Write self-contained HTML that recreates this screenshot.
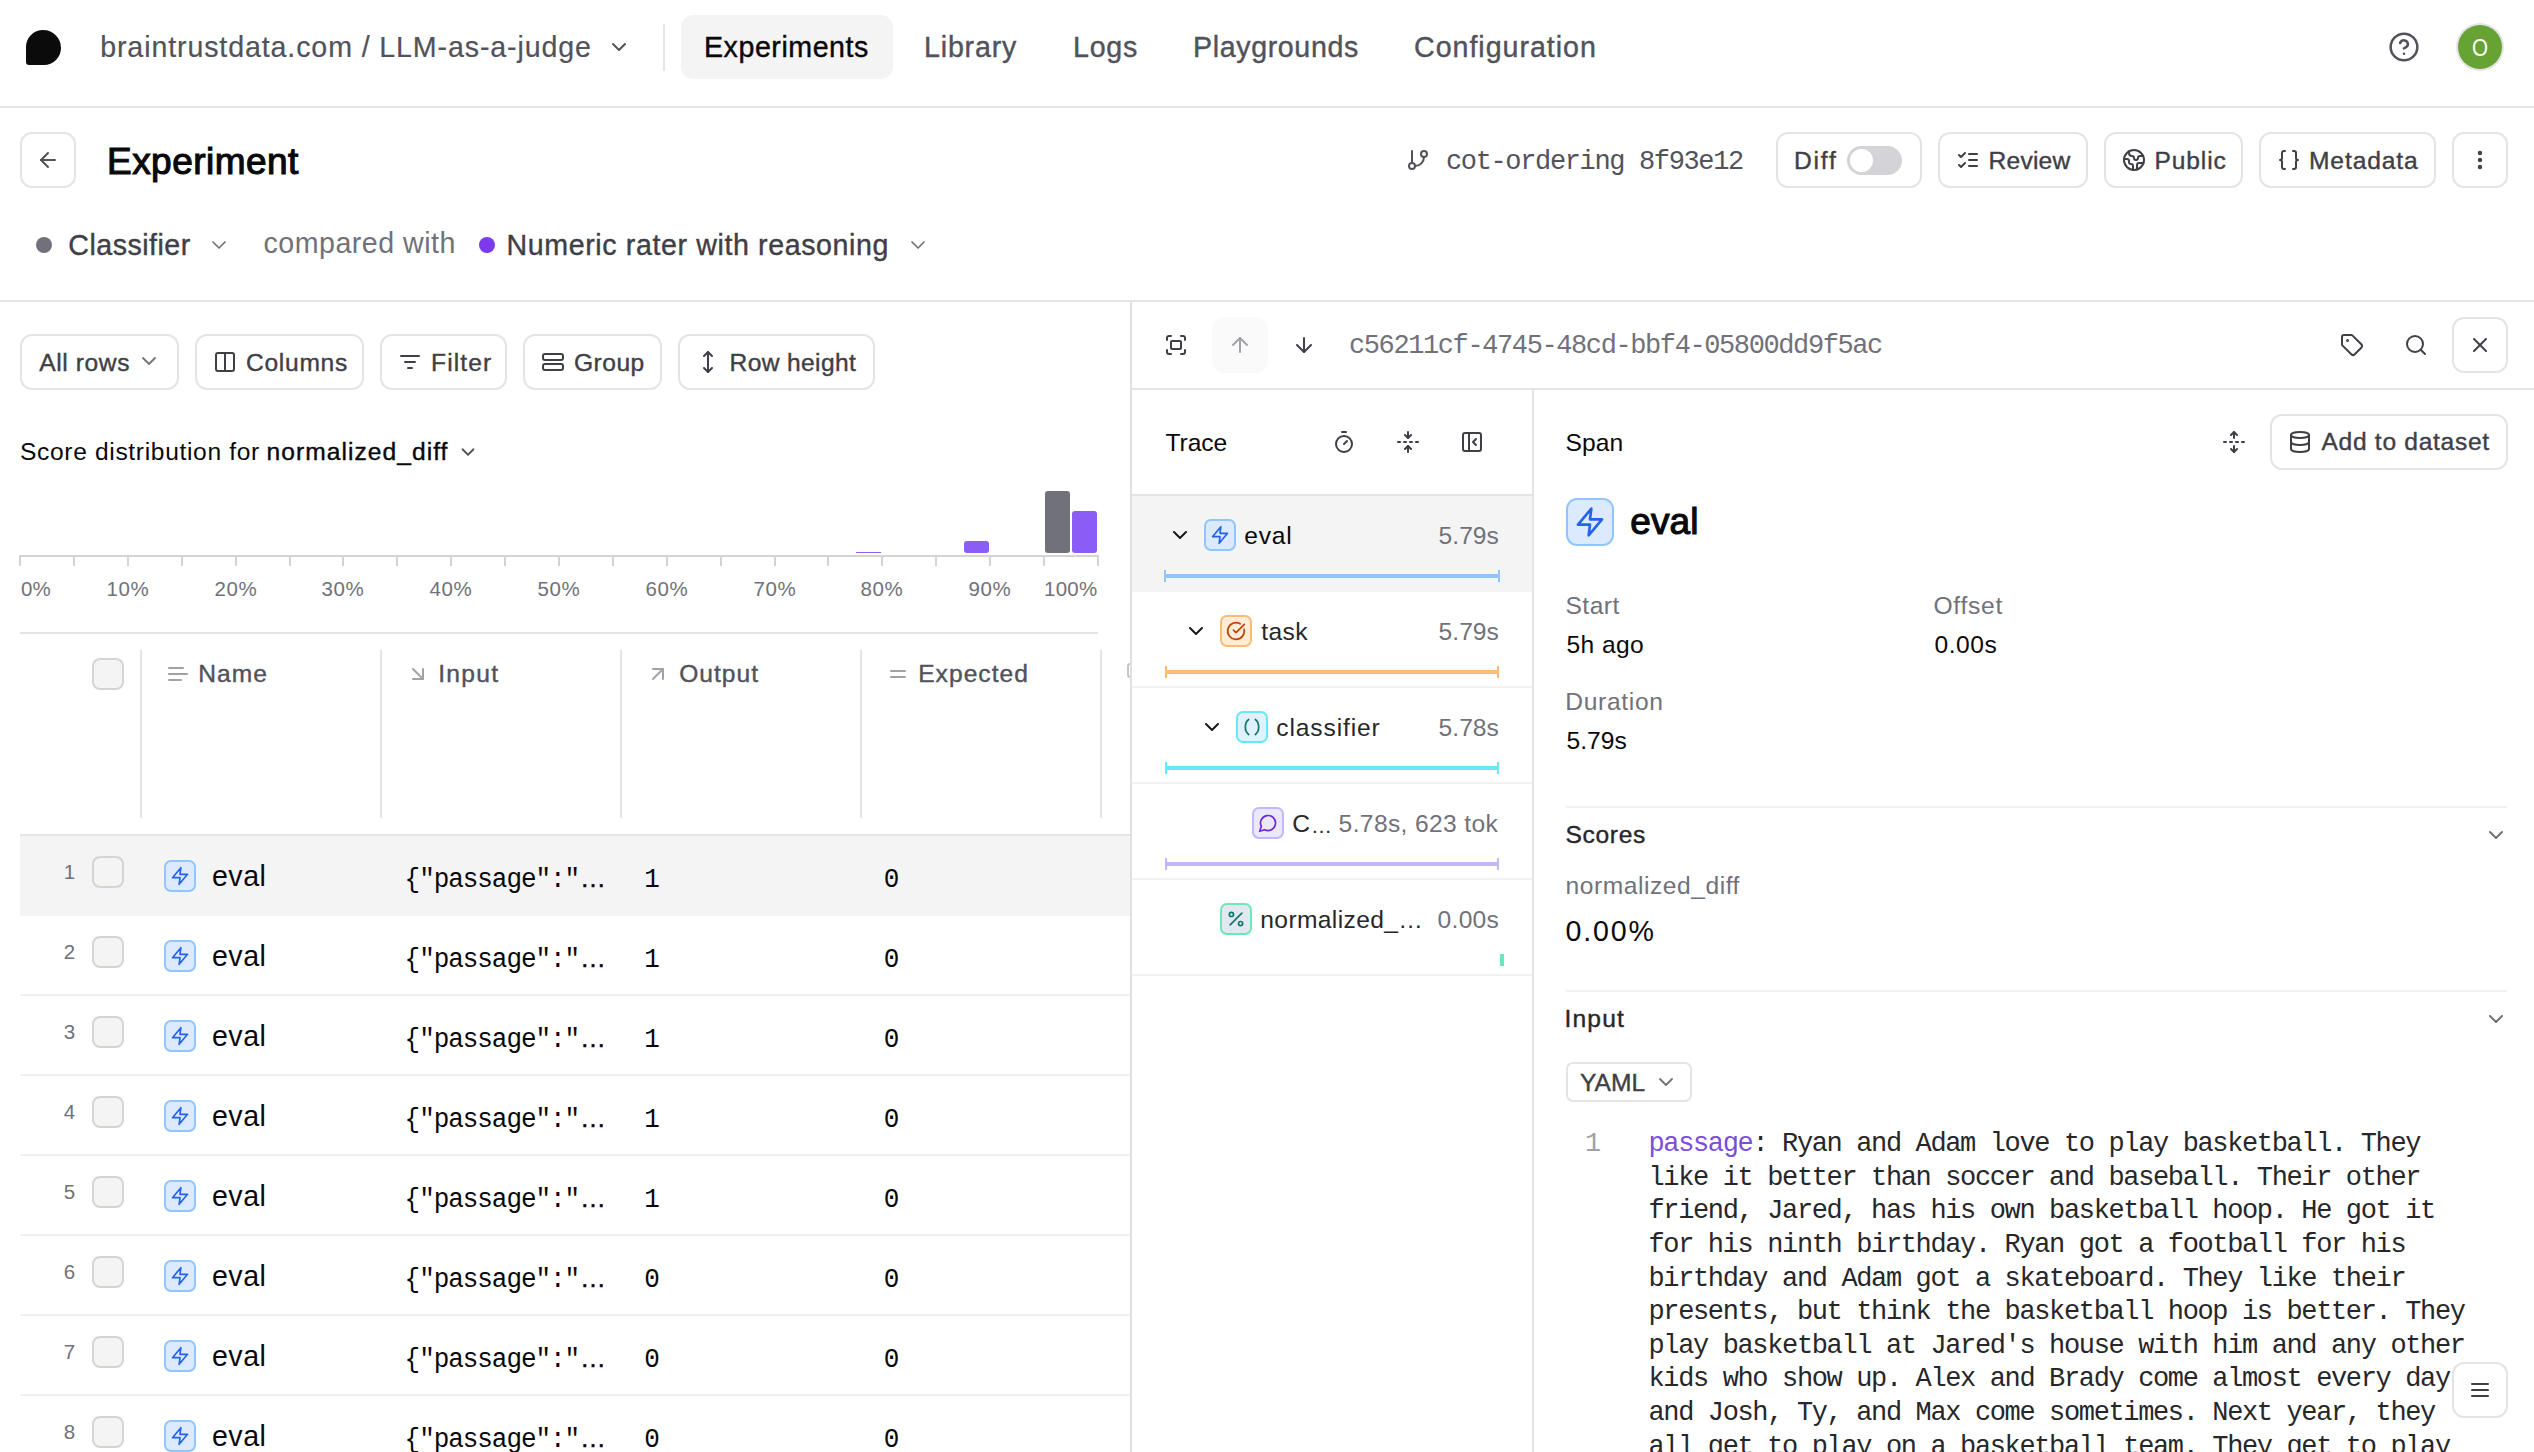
<!DOCTYPE html>
<html>
<head>
<meta charset="utf-8">
<title>Experiment</title>
<style>
*{box-sizing:border-box;margin:0;padding:0}
html,body{width:2534px;height:1452px;overflow:hidden;background:#fff}
body{font-family:"Liberation Sans",sans-serif;color:#09090b;position:relative}
.a{position:absolute}
.t{position:absolute;white-space:nowrap;line-height:1}
.m{font-family:"Liberation Mono",monospace}
.g6{color:#52525b}
.g5{color:#71717a}
.g8{color:#3f3f46}
.b{font-weight:bold}
.md{-webkit-text-stroke:.4px}
.sb{-webkit-text-stroke:1.15px}
.lt{-webkit-text-stroke:.2px}
.btn{position:absolute;border:2px solid #e4e4e7;background:#fff}
svg.i{position:absolute;fill:none;stroke:currentColor;stroke-linecap:round;stroke-linejoin:round;overflow:visible}
.cb{position:absolute;width:32px;height:32px;border:2px solid #d4d4d8;border-radius:8px;background:#f4f4f5}
.ic{position:absolute;width:32px;height:32px;border-radius:7px;border:2px solid}
</style>
</head>
<body>
<!-- top nav -->
<div class="a" style="left:26px;top:30px;width:35px;height:35px;background:#0b0b0c;border-radius:17px 18px 17px 3px / 17px 18px 17px 3px"></div>
<span class="t g6 lt" style="left:100.2px;font-size:28.6px;top:32.7px;letter-spacing:0.88px">braintrustdata.com / LLM-as-a-judge</span>
<svg class="i" style="left:607px;top:35px;width:24px;height:24px;color:#52525b;stroke-width:2" viewBox="0 0 24 24"><path d="m6 9 6 6 6-6"/></svg>
<div class="a" style="left:663px;top:24px;width:2px;height:47px;background:#e4e4e7"></div>
<div class="a" style="left:681px;top:15px;width:212px;height:64px;background:#f4f4f5;border-radius:12px"></div>
<span class="t md" style="left:704.0px;font-size:28.6px;top:32.7px;letter-spacing:0.54px">Experiments</span>
<span class="t g6 md" style="left:924.0px;font-size:28.6px;top:32.7px;letter-spacing:0.82px">Library</span>
<span class="t g6 md" style="left:1073.0px;font-size:28.6px;top:32.7px;letter-spacing:0.76px">Logs</span>
<span class="t g6 md" style="left:1193.0px;font-size:28.6px;top:32.7px;letter-spacing:0.63px">Playgrounds</span>
<span class="t g6 md" style="left:1414.0px;font-size:28.6px;top:32.7px;letter-spacing:0.98px">Configuration</span>
<svg class="i" style="left:2388px;top:31px;width:32px;height:32px;color:#52525b;stroke-width:1.9" viewBox="0 0 24 24"><circle cx="12" cy="12" r="10"/><path d="M9.09 9a3 3 0 0 1 5.83 1c0 2-3 3-3 3"/><path d="M12 17h.01"/></svg>
<div class="a" style="left:2458px;top:25px;width:44px;height:44px;border-radius:50%;background:#67a235;box-shadow:0 0 0 2px #e4e4e7"></div>
<span class="t " style="left:2420px;width:120px;text-align:center;font-size:24px;top:35.5px;color:#fff;transform:scaleX(.86)">O</span>
<div class="a" style="left:0px;top:106px;width:2534px;height:2px;background:#e4e4e7"></div>
<!-- header -->
<div class="btn" style="left:20px;top:132px;width:56px;height:56px;border-radius:12px;"></div>
<svg class="i" style="left:36px;top:148px;width:24px;height:24px;color:#52525b;stroke-width:2" viewBox="0 0 24 24"><path d="m12 19-7-7 7-7"/><path d="M19 12H5"/></svg>
<span class="t sb" style="left:107.0px;font-size:37px;top:142.5px;letter-spacing:0.46px">Experiment</span>
<svg class="i" style="left:1406px;top:148px;width:24px;height:24px;color:#52525b;stroke-width:2" viewBox="0 0 24 24"><line x1="6" x2="6" y1="3" y2="15"/><circle cx="18" cy="6" r="3"/><circle cx="6" cy="18" r="3"/><path d="M18 9a9 9 0 0 1-9 9"/></svg>
<span class="t m g6" style="left:1446.0px;font-size:27px;top:148.5px;letter-spacing:-1.36px;transform:scaleY(1.05);transform-origin:0 20.5px">cot-ordering 8f93e12</span>
<div class="btn" style="left:1776px;top:132px;width:146px;height:56px;border-radius:12px;"></div>
<span class="t g8 md" style="left:1794.0px;font-size:24.6px;top:149.2px;letter-spacing:1.80px">Diff</span>
<div class="a" style="left:1847px;top:146px;width:55px;height:29px;border-radius:15px;background:#d4d4d8"></div>
<div class="a" style="left:1850px;top:149px;width:23px;height:23px;border-radius:50%;background:#fff"></div>
<div class="btn" style="left:1938px;top:132px;width:150px;height:56px;border-radius:12px;"></div>
<svg class="i" style="left:1956px;top:148px;width:24px;height:24px;color:#3f3f46;stroke-width:2" viewBox="0 0 24 24"><path d="m3 17 2 2 4-4"/><path d="m3 7 2 2 4-4"/><path d="M13 6h8"/><path d="M13 12h8"/><path d="M13 18h8"/></svg>
<span class="t g8 md" style="left:1988.5px;font-size:24.6px;top:149.2px;letter-spacing:0.22px">Review</span>
<div class="btn" style="left:2104px;top:132px;width:139px;height:56px;border-radius:12px;"></div>
<svg class="i" style="left:2122px;top:148px;width:24px;height:24px;color:#3f3f46;stroke-width:2" viewBox="0 0 24 24"><path d="M21.54 15H17a2 2 0 0 0-2 2v4.54"/><path d="M7 3.34V5a3 3 0 0 0 3 3a2 2 0 0 1 2 2c0 1.1.9 2 2 2a2 2 0 0 0 2-2c0-1.1.9-2 2-2h3.17"/><path d="M11 21.95V18a2 2 0 0 0-2-2a2 2 0 0 1-2-2v-1a2 2 0 0 0-2-2H2.05"/><circle cx="12" cy="12" r="10"/></svg>
<span class="t g8 md" style="left:2154.5px;font-size:24.6px;top:149.2px;letter-spacing:0.86px">Public</span>
<div class="btn" style="left:2259px;top:132px;width:177px;height:56px;border-radius:12px;"></div>
<svg class="i" style="left:2277px;top:148px;width:24px;height:24px;color:#3f3f46;stroke-width:2" viewBox="0 0 24 24"><path d="M8 3H7a2 2 0 0 0-2 2v5a2 2 0 0 1-2 2 2 2 0 0 1 2 2v5c0 1.1.9 2 2 2h1"/><path d="M16 21h1a2 2 0 0 0 2-2v-5c0-1.1.9-2 2-2a2 2 0 0 1-2-2V5a2 2 0 0 0-2-2h-1"/></svg>
<span class="t g8 md" style="left:2309.0px;font-size:24.6px;top:149.2px;letter-spacing:0.88px">Metadata</span>
<div class="btn" style="left:2452px;top:132px;width:56px;height:56px;border-radius:12px;"></div>
<svg class="i" style="left:2468px;top:148px;width:24px;height:24px;color:#3f3f46;stroke-width:2.4" viewBox="0 0 24 24"><circle cx="12" cy="12" r="1"/><circle cx="12" cy="5" r="1"/><circle cx="12" cy="19" r="1"/></svg>
<div class="a" style="left:36px;top:237px;width:16px;height:16px;border-radius:50%;background:#71717a"></div>
<span class="t g8 md" style="left:68.3px;font-size:28.6px;top:230.7px;letter-spacing:0.49px">Classifier</span>
<svg class="i" style="left:207px;top:233px;width:24px;height:24px;color:#71717a;stroke-width:1.7" viewBox="0 0 24 24"><path d="m6 9 6 6 6-6"/></svg>
<span class="t g5" style="left:263.5px;font-size:28.6px;top:229.2px;letter-spacing:0.50px">compared with</span>
<div class="a" style="left:479px;top:237px;width:16px;height:16px;border-radius:50%;background:#7c3aed"></div>
<span class="t g8 md" style="left:506.5px;font-size:28.6px;top:230.7px;letter-spacing:0.61px">Numeric rater with reasoning</span>
<svg class="i" style="left:906px;top:233px;width:24px;height:24px;color:#71717a;stroke-width:1.7" viewBox="0 0 24 24"><path d="m6 9 6 6 6-6"/></svg>
<div class="a" style="left:0px;top:300px;width:2534px;height:2px;background:#e4e4e7"></div>
<!-- left panel -->
<div class="a" style="left:1130px;top:302px;width:2px;height:1150px;background:#e0e0e3"></div>
<div class="btn" style="left:20px;top:334px;width:159px;height:56px;border-radius:12px;"></div>
<span class="t g8 md" style="left:39.2px;font-size:24.6px;top:350.8px;letter-spacing:0.60px">All rows</span>
<svg class="i" style="left:137px;top:349px;width:24px;height:24px;color:#71717a;stroke-width:1.8" viewBox="0 0 24 24"><path d="m6 9 6 6 6-6"/></svg>
<div class="btn" style="left:195px;top:334px;width:169px;height:56px;border-radius:12px;"></div>
<svg class="i" style="left:213px;top:350px;width:24px;height:24px;color:#3f3f46;stroke-width:2" viewBox="0 0 24 24"><rect width="18" height="18" x="3" y="3" rx="2"/><path d="M12 3v18"/></svg>
<span class="t g8 md" style="left:246.0px;font-size:24.6px;top:350.8px;letter-spacing:0.71px">Columns</span>
<div class="btn" style="left:380px;top:334px;width:127px;height:56px;border-radius:12px;"></div>
<svg class="i" style="left:398px;top:350px;width:24px;height:24px;color:#3f3f46;stroke-width:2" viewBox="0 0 24 24"><path d="M3 6h18"/><path d="M7 12h10"/><path d="M10 18h4"/></svg>
<span class="t g8 md" style="left:431.0px;font-size:24.6px;top:350.8px;letter-spacing:1.11px">Filter</span>
<div class="btn" style="left:523px;top:334px;width:139px;height:56px;border-radius:12px;"></div>
<svg class="i" style="left:541px;top:350px;width:24px;height:24px;color:#3f3f46;stroke-width:2" viewBox="0 0 24 24"><rect width="20" height="6" x="2" y="4" rx="2"/><rect width="20" height="6" x="2" y="14" rx="2"/></svg>
<span class="t g8 md" style="left:574.0px;font-size:24.6px;top:350.8px;letter-spacing:0.46px">Group</span>
<div class="btn" style="left:678px;top:334px;width:197px;height:56px;border-radius:12px;"></div>
<svg class="i" style="left:696px;top:350px;width:24px;height:24px;color:#3f3f46;stroke-width:2" viewBox="0 0 24 24"><path d="M12 2v20"/><path d="m8 18 4 4 4-4"/><path d="m8 6 4-4 4 4"/></svg>
<span class="t g8 md" style="left:729.5px;font-size:24.6px;top:350.8px;letter-spacing:0.37px">Row height</span>
<span class="t " style="left:20.0px;font-size:24.6px;top:440.2px;letter-spacing:0.65px">Score distribution for</span>
<span class="t md" style="left:266.5px;font-size:24.6px;top:440.2px;letter-spacing:1.04px">normalized_diff</span>
<svg class="i" style="left:457px;top:441px;width:22px;height:22px;color:#52525b;stroke-width:2" viewBox="0 0 24 24"><path d="m6 9 6 6 6-6"/></svg>
<div class="a" style="left:20px;top:555px;width:1079px;height:2px;background:#d4d4d8"></div>
<div class="a" style="left:19px;top:555px;width:2px;height:11px;background:#d4d4d8"></div>
<div class="a" style="left:73px;top:555px;width:2px;height:11px;background:#d4d4d8"></div>
<div class="a" style="left:127px;top:555px;width:2px;height:11px;background:#d4d4d8"></div>
<div class="a" style="left:181px;top:555px;width:2px;height:11px;background:#d4d4d8"></div>
<div class="a" style="left:235px;top:555px;width:2px;height:11px;background:#d4d4d8"></div>
<div class="a" style="left:289px;top:555px;width:2px;height:11px;background:#d4d4d8"></div>
<div class="a" style="left:342px;top:555px;width:2px;height:11px;background:#d4d4d8"></div>
<div class="a" style="left:396px;top:555px;width:2px;height:11px;background:#d4d4d8"></div>
<div class="a" style="left:450px;top:555px;width:2px;height:11px;background:#d4d4d8"></div>
<div class="a" style="left:504px;top:555px;width:2px;height:11px;background:#d4d4d8"></div>
<div class="a" style="left:558px;top:555px;width:2px;height:11px;background:#d4d4d8"></div>
<div class="a" style="left:612px;top:555px;width:2px;height:11px;background:#d4d4d8"></div>
<div class="a" style="left:666px;top:555px;width:2px;height:11px;background:#d4d4d8"></div>
<div class="a" style="left:720px;top:555px;width:2px;height:11px;background:#d4d4d8"></div>
<div class="a" style="left:774px;top:555px;width:2px;height:11px;background:#d4d4d8"></div>
<div class="a" style="left:827px;top:555px;width:2px;height:11px;background:#d4d4d8"></div>
<div class="a" style="left:881px;top:555px;width:2px;height:11px;background:#d4d4d8"></div>
<div class="a" style="left:935px;top:555px;width:2px;height:11px;background:#d4d4d8"></div>
<div class="a" style="left:989px;top:555px;width:2px;height:11px;background:#d4d4d8"></div>
<div class="a" style="left:1043px;top:555px;width:2px;height:11px;background:#d4d4d8"></div>
<div class="a" style="left:1097px;top:555px;width:2px;height:11px;background:#d4d4d8"></div>
<span class="t g5" style="left:21.0px;font-size:20.5px;top:579.2px;letter-spacing:0.10px">0%</span>
<span class="t g5" style="left:68px;width:120px;text-align:center;font-size:20.5px;top:579.2px;letter-spacing:.6px">10%</span>
<span class="t g5" style="left:176px;width:120px;text-align:center;font-size:20.5px;top:579.2px;letter-spacing:.6px">20%</span>
<span class="t g5" style="left:283px;width:120px;text-align:center;font-size:20.5px;top:579.2px;letter-spacing:.6px">30%</span>
<span class="t g5" style="left:391px;width:120px;text-align:center;font-size:20.5px;top:579.2px;letter-spacing:.6px">40%</span>
<span class="t g5" style="left:499px;width:120px;text-align:center;font-size:20.5px;top:579.2px;letter-spacing:.6px">50%</span>
<span class="t g5" style="left:607px;width:120px;text-align:center;font-size:20.5px;top:579.2px;letter-spacing:.6px">60%</span>
<span class="t g5" style="left:715px;width:120px;text-align:center;font-size:20.5px;top:579.2px;letter-spacing:.6px">70%</span>
<span class="t g5" style="left:822px;width:120px;text-align:center;font-size:20.5px;top:579.2px;letter-spacing:.6px">80%</span>
<span class="t g5" style="left:930px;width:120px;text-align:center;font-size:20.5px;top:579.2px;letter-spacing:.6px">90%</span>
<span class="t g5" style="left:1044.0px;font-size:20.5px;top:579.2px;letter-spacing:0.27px">100%</span>
<div class="a" style="left:1045px;top:491px;width:25px;height:62px;background:#71717a;border-radius:3px"></div>
<div class="a" style="left:1072px;top:511px;width:25px;height:42px;background:#8b5cf6;border-radius:3px"></div>
<div class="a" style="left:964px;top:541px;width:25px;height:12px;background:#8b5cf6;border-radius:3px"></div>
<div class="a" style="left:856px;top:552px;width:25px;height:1px;background:#8b5cf6"></div>
<div class="a" style="left:20px;top:632px;width:1078px;height:2px;background:#e4e4e7"></div>
<div class="a" style="left:140px;top:650px;width:2px;height:168px;background:#e4e4e7"></div>
<div class="a" style="left:380px;top:650px;width:2px;height:168px;background:#e4e4e7"></div>
<div class="a" style="left:620px;top:650px;width:2px;height:168px;background:#e4e4e7"></div>
<div class="a" style="left:860px;top:650px;width:2px;height:168px;background:#e4e4e7"></div>
<div class="a" style="left:1100px;top:650px;width:2px;height:168px;background:#e4e4e7"></div>
<div class="cb" style="left:92px;top:658px"></div>
<svg class="i" style="left:166px;top:662px;width:24px;height:24px;color:#a1a1aa;stroke-width:2" viewBox="0 0 24 24"><path d="M17 6H3"/><path d="M21 12H3"/><path d="M15 18H3"/></svg>
<span class="t g6 md" style="left:198.2px;font-size:24.6px;top:661.6px;letter-spacing:1.02px">Name</span>
<svg class="i" style="left:406px;top:662px;width:24px;height:24px;color:#a1a1aa;stroke-width:2" viewBox="0 0 24 24"><path d="m7 7 10 10"/><path d="M17 7v10H7"/></svg>
<span class="t g6 md" style="left:438.2px;font-size:24.6px;top:661.6px;letter-spacing:1.28px">Input</span>
<svg class="i" style="left:646px;top:662px;width:24px;height:24px;color:#a1a1aa;stroke-width:2" viewBox="0 0 24 24"><path d="M7 7h10v10"/><path d="M7 17 17 7"/></svg>
<span class="t g6 md" style="left:679.2px;font-size:24.6px;top:661.6px;letter-spacing:1.00px">Output</span>
<svg class="i" style="left:886px;top:662px;width:24px;height:24px;color:#a1a1aa;stroke-width:2" viewBox="0 0 24 24"><line x1="5" x2="19" y1="9" y2="9"/><line x1="5" x2="19" y1="15" y2="15"/></svg>
<span class="t g6 md" style="left:918.2px;font-size:24.6px;top:661.6px;letter-spacing:1.02px">Expected</span>
<div class="a" style="left:1127px;top:663px;width:3px;height:15px;border:2px solid #c4c4ca;border-right:none;border-radius:6px 0 0 6px"></div>
<div class="a" style="left:20px;top:834px;width:1110px;height:2px;background:#e4e4e7"></div>
<div class="a" style="left:20px;top:836px;width:1110px;height:80px;background:#f4f4f5"></div>
<span class="t g5" style="left:9.5px;width:120px;text-align:center;font-size:20.5px;top:862.2px">1</span>
<div class="cb" style="left:92px;top:856px"></div>
<div class="ic" style="left:164px;top:860px;background:#dbeafe;border-color:#93c5fd"></div>
<svg class="i" style="left:170px;top:866px;width:20px;height:20px;color:#2563eb;stroke-width:2" viewBox="0 0 24 24"><polygon points="13 2 3 14 12 14 11 22 21 10 12 10 13 2"/></svg>
<span class="t " style="left:212.0px;font-size:28.6px;top:862.0px;letter-spacing:0.47px">eval</span>
<span class="t m" style="left:404.6px;font-size:26px;top:866.6px;letter-spacing:-1.06px;transform:scaleY(1.05);transform-origin:0 20.0px">{"passage":"</span>
<span class="t md" style="left:580.0px;font-size:26px;top:864.6px;letter-spacing:1.50px">…</span>
<span class="t m" style="left:644.3px;font-size:26px;top:866.6px;transform:scaleY(1.05);transform-origin:0 20.0px">1</span>
<span class="t m" style="left:883.8px;font-size:26px;top:866.6px;transform:scaleY(1.05);transform-origin:0 20.0px">0</span>
<div class="a" style="left:20px;top:994px;width:1110px;height:2px;background:#efeff1"></div>
<span class="t g5" style="left:9.5px;width:120px;text-align:center;font-size:20.5px;top:942.2px">2</span>
<div class="cb" style="left:92px;top:936px"></div>
<div class="ic" style="left:164px;top:940px;background:#dbeafe;border-color:#93c5fd"></div>
<svg class="i" style="left:170px;top:946px;width:20px;height:20px;color:#2563eb;stroke-width:2" viewBox="0 0 24 24"><polygon points="13 2 3 14 12 14 11 22 21 10 12 10 13 2"/></svg>
<span class="t " style="left:212.0px;font-size:28.6px;top:942.0px;letter-spacing:0.47px">eval</span>
<span class="t m" style="left:404.6px;font-size:26px;top:946.6px;letter-spacing:-1.06px;transform:scaleY(1.05);transform-origin:0 20.0px">{"passage":"</span>
<span class="t md" style="left:580.0px;font-size:26px;top:944.6px;letter-spacing:1.50px">…</span>
<span class="t m" style="left:644.3px;font-size:26px;top:946.6px;transform:scaleY(1.05);transform-origin:0 20.0px">1</span>
<span class="t m" style="left:883.8px;font-size:26px;top:946.6px;transform:scaleY(1.05);transform-origin:0 20.0px">0</span>
<div class="a" style="left:20px;top:1074px;width:1110px;height:2px;background:#efeff1"></div>
<span class="t g5" style="left:9.5px;width:120px;text-align:center;font-size:20.5px;top:1022.2px">3</span>
<div class="cb" style="left:92px;top:1016px"></div>
<div class="ic" style="left:164px;top:1020px;background:#dbeafe;border-color:#93c5fd"></div>
<svg class="i" style="left:170px;top:1026px;width:20px;height:20px;color:#2563eb;stroke-width:2" viewBox="0 0 24 24"><polygon points="13 2 3 14 12 14 11 22 21 10 12 10 13 2"/></svg>
<span class="t " style="left:212.0px;font-size:28.6px;top:1022.0px;letter-spacing:0.47px">eval</span>
<span class="t m" style="left:404.6px;font-size:26px;top:1026.6px;letter-spacing:-1.06px;transform:scaleY(1.05);transform-origin:0 20.0px">{"passage":"</span>
<span class="t md" style="left:580.0px;font-size:26px;top:1024.6px;letter-spacing:1.50px">…</span>
<span class="t m" style="left:644.3px;font-size:26px;top:1026.6px;transform:scaleY(1.05);transform-origin:0 20.0px">1</span>
<span class="t m" style="left:883.8px;font-size:26px;top:1026.6px;transform:scaleY(1.05);transform-origin:0 20.0px">0</span>
<div class="a" style="left:20px;top:1154px;width:1110px;height:2px;background:#efeff1"></div>
<span class="t g5" style="left:9.5px;width:120px;text-align:center;font-size:20.5px;top:1102.2px">4</span>
<div class="cb" style="left:92px;top:1096px"></div>
<div class="ic" style="left:164px;top:1100px;background:#dbeafe;border-color:#93c5fd"></div>
<svg class="i" style="left:170px;top:1106px;width:20px;height:20px;color:#2563eb;stroke-width:2" viewBox="0 0 24 24"><polygon points="13 2 3 14 12 14 11 22 21 10 12 10 13 2"/></svg>
<span class="t " style="left:212.0px;font-size:28.6px;top:1102.0px;letter-spacing:0.47px">eval</span>
<span class="t m" style="left:404.6px;font-size:26px;top:1106.6px;letter-spacing:-1.06px;transform:scaleY(1.05);transform-origin:0 20.0px">{"passage":"</span>
<span class="t md" style="left:580.0px;font-size:26px;top:1104.6px;letter-spacing:1.50px">…</span>
<span class="t m" style="left:644.3px;font-size:26px;top:1106.6px;transform:scaleY(1.05);transform-origin:0 20.0px">1</span>
<span class="t m" style="left:883.8px;font-size:26px;top:1106.6px;transform:scaleY(1.05);transform-origin:0 20.0px">0</span>
<div class="a" style="left:20px;top:1234px;width:1110px;height:2px;background:#efeff1"></div>
<span class="t g5" style="left:9.5px;width:120px;text-align:center;font-size:20.5px;top:1182.2px">5</span>
<div class="cb" style="left:92px;top:1176px"></div>
<div class="ic" style="left:164px;top:1180px;background:#dbeafe;border-color:#93c5fd"></div>
<svg class="i" style="left:170px;top:1186px;width:20px;height:20px;color:#2563eb;stroke-width:2" viewBox="0 0 24 24"><polygon points="13 2 3 14 12 14 11 22 21 10 12 10 13 2"/></svg>
<span class="t " style="left:212.0px;font-size:28.6px;top:1182.0px;letter-spacing:0.47px">eval</span>
<span class="t m" style="left:404.6px;font-size:26px;top:1186.6px;letter-spacing:-1.06px;transform:scaleY(1.05);transform-origin:0 20.0px">{"passage":"</span>
<span class="t md" style="left:580.0px;font-size:26px;top:1184.6px;letter-spacing:1.50px">…</span>
<span class="t m" style="left:644.3px;font-size:26px;top:1186.6px;transform:scaleY(1.05);transform-origin:0 20.0px">1</span>
<span class="t m" style="left:883.8px;font-size:26px;top:1186.6px;transform:scaleY(1.05);transform-origin:0 20.0px">0</span>
<div class="a" style="left:20px;top:1314px;width:1110px;height:2px;background:#efeff1"></div>
<span class="t g5" style="left:9.5px;width:120px;text-align:center;font-size:20.5px;top:1262.2px">6</span>
<div class="cb" style="left:92px;top:1256px"></div>
<div class="ic" style="left:164px;top:1260px;background:#dbeafe;border-color:#93c5fd"></div>
<svg class="i" style="left:170px;top:1266px;width:20px;height:20px;color:#2563eb;stroke-width:2" viewBox="0 0 24 24"><polygon points="13 2 3 14 12 14 11 22 21 10 12 10 13 2"/></svg>
<span class="t " style="left:212.0px;font-size:28.6px;top:1262.0px;letter-spacing:0.47px">eval</span>
<span class="t m" style="left:404.6px;font-size:26px;top:1266.6px;letter-spacing:-1.06px;transform:scaleY(1.05);transform-origin:0 20.0px">{"passage":"</span>
<span class="t md" style="left:580.0px;font-size:26px;top:1264.6px;letter-spacing:1.50px">…</span>
<span class="t m" style="left:644.3px;font-size:26px;top:1266.6px;transform:scaleY(1.05);transform-origin:0 20.0px">0</span>
<span class="t m" style="left:883.8px;font-size:26px;top:1266.6px;transform:scaleY(1.05);transform-origin:0 20.0px">0</span>
<div class="a" style="left:20px;top:1394px;width:1110px;height:2px;background:#efeff1"></div>
<span class="t g5" style="left:9.5px;width:120px;text-align:center;font-size:20.5px;top:1342.2px">7</span>
<div class="cb" style="left:92px;top:1336px"></div>
<div class="ic" style="left:164px;top:1340px;background:#dbeafe;border-color:#93c5fd"></div>
<svg class="i" style="left:170px;top:1346px;width:20px;height:20px;color:#2563eb;stroke-width:2" viewBox="0 0 24 24"><polygon points="13 2 3 14 12 14 11 22 21 10 12 10 13 2"/></svg>
<span class="t " style="left:212.0px;font-size:28.6px;top:1342.0px;letter-spacing:0.47px">eval</span>
<span class="t m" style="left:404.6px;font-size:26px;top:1346.6px;letter-spacing:-1.06px;transform:scaleY(1.05);transform-origin:0 20.0px">{"passage":"</span>
<span class="t md" style="left:580.0px;font-size:26px;top:1344.6px;letter-spacing:1.50px">…</span>
<span class="t m" style="left:644.3px;font-size:26px;top:1346.6px;transform:scaleY(1.05);transform-origin:0 20.0px">0</span>
<span class="t m" style="left:883.8px;font-size:26px;top:1346.6px;transform:scaleY(1.05);transform-origin:0 20.0px">0</span>
<div class="a" style="left:20px;top:1474px;width:1110px;height:2px;background:#efeff1"></div>
<span class="t g5" style="left:9.5px;width:120px;text-align:center;font-size:20.5px;top:1422.2px">8</span>
<div class="cb" style="left:92px;top:1416px"></div>
<div class="ic" style="left:164px;top:1420px;background:#dbeafe;border-color:#93c5fd"></div>
<svg class="i" style="left:170px;top:1426px;width:20px;height:20px;color:#2563eb;stroke-width:2" viewBox="0 0 24 24"><polygon points="13 2 3 14 12 14 11 22 21 10 12 10 13 2"/></svg>
<span class="t " style="left:212.0px;font-size:28.6px;top:1422.0px;letter-spacing:0.47px">eval</span>
<span class="t m" style="left:404.6px;font-size:26px;top:1426.6px;letter-spacing:-1.06px;transform:scaleY(1.05);transform-origin:0 20.0px">{"passage":"</span>
<span class="t md" style="left:580.0px;font-size:26px;top:1424.6px;letter-spacing:1.50px">…</span>
<span class="t m" style="left:644.3px;font-size:26px;top:1426.6px;transform:scaleY(1.05);transform-origin:0 20.0px">0</span>
<span class="t m" style="left:883.8px;font-size:26px;top:1426.6px;transform:scaleY(1.05);transform-origin:0 20.0px">0</span>
<!-- right top bar -->
<svg class="i" style="left:1164px;top:333px;width:24px;height:24px;color:#3f3f46;stroke-width:2" viewBox="0 0 24 24"><path d="M3 7V5a2 2 0 0 1 2-2h2"/><path d="M17 3h2a2 2 0 0 1 2 2v2"/><path d="M21 17v2a2 2 0 0 1-2 2h-2"/><path d="M7 21H5a2 2 0 0 1-2-2v-2"/><rect width="10" height="8" x="7" y="8" rx="1"/></svg>
<div class="a" style="left:1212px;top:317px;width:56px;height:56px;background:#fafafa;border-radius:12px"></div>
<svg class="i" style="left:1228px;top:333px;width:24px;height:24px;color:#a1a1aa;stroke-width:2" viewBox="0 0 24 24"><path d="m5 12 7-7 7 7"/><path d="M12 19V5"/></svg>
<svg class="i" style="left:1292px;top:333px;width:24px;height:24px;color:#3f3f46;stroke-width:2" viewBox="0 0 24 24"><path d="M12 5v14"/><path d="m19 12-7 7-7-7"/></svg>
<span class="t m g5" style="left:1349.0px;font-size:27px;top:332.8px;letter-spacing:-1.40px;transform:scaleY(1.05);transform-origin:0 20.5px">c56211cf-4745-48cd-bbf4-05800dd9f5ac</span>
<svg class="i" style="left:2340px;top:333px;width:24px;height:24px;color:#3f3f46;stroke-width:2" viewBox="0 0 24 24"><path d="M12.586 2.586A2 2 0 0 0 11.172 2H4a2 2 0 0 0-2 2v7.172a2 2 0 0 0 .586 1.414l8.704 8.704a2.426 2.426 0 0 0 3.42 0l6.58-6.58a2.426 2.426 0 0 0 0-3.42z"/><circle cx="7.5" cy="7.5" r=".5" fill="currentColor"/></svg>
<svg class="i" style="left:2404px;top:333px;width:24px;height:24px;color:#3f3f46;stroke-width:2" viewBox="0 0 24 24"><circle cx="11" cy="11" r="8"/><path d="m21 21-4.3-4.3"/></svg>
<div class="btn" style="left:2452px;top:317px;width:56px;height:56px;border-radius:12px;"></div>
<svg class="i" style="left:2468px;top:333px;width:24px;height:24px;color:#3f3f46;stroke-width:2" viewBox="0 0 24 24"><path d="M18 6 6 18"/><path d="m6 6 12 12"/></svg>
<div class="a" style="left:1132px;top:388px;width:1402px;height:2px;background:#e4e4e7"></div>
<!-- trace -->
<div class="a" style="left:1532px;top:390px;width:2px;height:1062px;background:#e4e4e7"></div>
<span class="t " style="left:1165.5px;font-size:24.6px;top:431.2px;letter-spacing:-0.07px">Trace</span>
<svg class="i" style="left:1332px;top:430px;width:24px;height:24px;color:#3f3f46;stroke-width:2" viewBox="0 0 24 24"><line x1="10" x2="14" y1="2" y2="2"/><line x1="12" x2="15" y1="14" y2="11"/><circle cx="12" cy="14" r="8"/></svg>
<svg class="i" style="left:1396px;top:430px;width:24px;height:24px;color:#3f3f46;stroke-width:2" viewBox="0 0 24 24"><path d="M12 22v-6"/><path d="M12 8V2"/><path d="M4 12H2"/><path d="M10 12H8"/><path d="M16 12h-2"/><path d="M22 12h-2"/><path d="m15 19-3-3-3 3"/><path d="m15 5-3 3-3-3"/></svg>
<svg class="i" style="left:1460px;top:430px;width:24px;height:24px;color:#3f3f46;stroke-width:2" viewBox="0 0 24 24"><rect width="18" height="18" x="3" y="3" rx="2"/><path d="M9 3v18"/><path d="m16 15-3-3 3-3"/></svg>
<div class="a" style="left:1132px;top:494px;width:400px;height:2px;background:#e4e4e7"></div>
<div class="a" style="left:1132px;top:496px;width:400px;height:96px;background:#f4f4f5"></div>
<svg class="i" style="left:1168px;top:523px;width:24px;height:24px;color:#18181b;stroke-width:2" viewBox="0 0 24 24"><path d="m6 9 6 6 6-6"/></svg>
<div class="ic" style="left:1204px;top:519px;background:#dbeafe;border-color:#93c5fd"></div>
<svg class="i" style="left:1210px;top:525px;width:20px;height:20px;color:#2563eb;stroke-width:2" viewBox="0 0 24 24"><polygon points="13 2 3 14 12 14 11 22 21 10 12 10 13 2"/></svg>
<span class="t " style="left:1244.3px;font-size:24.6px;top:523.9px;letter-spacing:0.78px;color:#09090b">eval</span>
<span class="t g5" style="left:1438.6px;font-size:24.6px;top:523.9px;letter-spacing:0.03px">5.79s</span>
<div class="a" style="left:1164px;top:574px;width:336px;height:4px;background:#93c5fd"></div>
<div class="a" style="left:1164px;top:570px;width:2px;height:12px;background:#93c5fd"></div>
<div class="a" style="left:1498px;top:570px;width:2px;height:12px;background:#93c5fd"></div>
<div class="a" style="left:1132px;top:686px;width:400px;height:2px;background:#f1f1f3"></div>
<svg class="i" style="left:1184px;top:619px;width:24px;height:24px;color:#18181b;stroke-width:2" viewBox="0 0 24 24"><path d="m6 9 6 6 6-6"/></svg>
<div class="ic" style="left:1220px;top:615px;background:#ffedd5;border-color:#fdba74"></div>
<svg class="i" style="left:1226px;top:621px;width:20px;height:20px;color:#c2410c;stroke-width:2" viewBox="0 0 24 24"><path d="M21.801 10A10 10 0 1 1 17 3.335"/><path d="m9 11 3 3L22 4"/></svg>
<span class="t " style="left:1261.3px;font-size:24.6px;top:619.9px;letter-spacing:0.40px;color:#27272a">task</span>
<span class="t g5" style="left:1438.6px;font-size:24.6px;top:619.9px;letter-spacing:0.03px">5.79s</span>
<div class="a" style="left:1165px;top:670px;width:334px;height:4px;background:#fdba74"></div>
<div class="a" style="left:1165px;top:666px;width:2px;height:12px;background:#fdba74"></div>
<div class="a" style="left:1497px;top:666px;width:2px;height:12px;background:#fdba74"></div>
<div class="a" style="left:1132px;top:782px;width:400px;height:2px;background:#f1f1f3"></div>
<svg class="i" style="left:1200px;top:715px;width:24px;height:24px;color:#18181b;stroke-width:2" viewBox="0 0 24 24"><path d="m6 9 6 6 6-6"/></svg>
<div class="ic" style="left:1236px;top:711px;background:#dff1fb;border-color:#67e8f9"></div>
<svg class="i" style="left:1242px;top:717px;width:20px;height:20px;color:#0f766e;stroke-width:2" viewBox="0 0 24 24"><path d="M8 21s-4-3-4-9 4-9 4-9"/><path d="M16 3s4 3 4 9-4 9-4 9"/></svg>
<span class="t " style="left:1276.3px;font-size:24.6px;top:715.9px;letter-spacing:0.87px;color:#27272a">classifier</span>
<span class="t g5" style="left:1438.6px;font-size:24.6px;top:715.9px;letter-spacing:0.03px">5.78s</span>
<div class="a" style="left:1165px;top:766px;width:334px;height:4px;background:#67e8f9"></div>
<div class="a" style="left:1165px;top:762px;width:2px;height:12px;background:#67e8f9"></div>
<div class="a" style="left:1497px;top:762px;width:2px;height:12px;background:#67e8f9"></div>
<div class="a" style="left:1132px;top:878px;width:400px;height:2px;background:#f1f1f3"></div>
<div class="ic" style="left:1252px;top:807px;background:#ebe9f7;border-color:#c4b5fd"></div>
<svg class="i" style="left:1258px;top:813px;width:20px;height:20px;color:#6d28d9;stroke-width:2" viewBox="0 0 24 24"><path d="M7.9 20A9 9 0 1 0 4 16.1L2 22Z"/></svg>
<span class="t " style="left:1292.3px;font-size:24.6px;top:811.9px;letter-spacing:0.50px;color:#27272a">C</span>
<span class="t " style="left:1311.0px;font-size:21px;top:814.7px;letter-spacing:-2.00px;color:#27272a">…</span>
<span class="t g5" style="left:1338.6px;font-size:24.6px;top:811.9px;letter-spacing:0.37px">5.78s, 623 tok</span>
<div class="a" style="left:1165px;top:862px;width:334px;height:4px;background:#c4b5fd"></div>
<div class="a" style="left:1165px;top:858px;width:2px;height:12px;background:#c4b5fd"></div>
<div class="a" style="left:1497px;top:858px;width:2px;height:12px;background:#c4b5fd"></div>
<div class="a" style="left:1132px;top:974px;width:400px;height:2px;background:#f1f1f3"></div>
<div class="ic" style="left:1220px;top:903px;background:#e2e8f0;border-color:#6ee7b7"></div>
<svg class="i" style="left:1226px;top:909px;width:20px;height:20px;color:#0f766e;stroke-width:2" viewBox="0 0 24 24"><line x1="19" x2="5" y1="5" y2="19"/><circle cx="6.5" cy="6.5" r="2.5"/><circle cx="17.5" cy="17.5" r="2.5"/></svg>
<span class="t " style="left:1260.3px;font-size:24.6px;top:907.9px;letter-spacing:0.37px;color:#27272a">normalized_…</span>
<span class="t g5" style="left:1437.6px;font-size:24.6px;top:907.9px;letter-spacing:0.28px">0.00s</span>
<div class="a" style="left:1500px;top:954px;width:4px;height:12px;background:#6ee7b7"></div>
<!-- span -->
<span class="t " style="left:1565.5px;font-size:24.6px;top:431.4px;letter-spacing:0.08px">Span</span>
<svg class="i" style="left:2222px;top:430px;width:24px;height:24px;color:#3f3f46;stroke-width:2" viewBox="0 0 24 24"><path d="M12 22v-6"/><path d="M12 8V2"/><path d="M4 12H2"/><path d="M10 12H8"/><path d="M16 12h-2"/><path d="M22 12h-2"/><path d="m15 19-3 3-3-3"/><path d="m15 5-3-3-3 3"/></svg>
<div class="btn" style="left:2270px;top:414px;width:238px;height:56px;border-radius:12px;"></div>
<svg class="i" style="left:2288px;top:430px;width:24px;height:24px;color:#3f3f46;stroke-width:2" viewBox="0 0 24 24"><ellipse cx="12" cy="5" rx="9" ry="3"/><path d="M3 5V19A9 3 0 0 0 21 19V5"/><path d="M3 12A9 3 0 0 0 21 12"/></svg>
<span class="t g8 md" style="left:2321.5px;font-size:24.6px;top:429.9px;letter-spacing:0.69px">Add to dataset</span>
<div class="a" style="left:1566px;top:498px;width:48px;height:48px;background:#dbeafe;border:2px solid #93c5fd;border-radius:11px"></div>
<svg class="i" style="left:1574px;top:506px;width:32px;height:32px;color:#2563eb;stroke-width:2" viewBox="0 0 24 24"><polygon points="13 2 3 14 12 14 11 22 21 10 12 10 13 2"/></svg>
<span class="t sb" style="left:1630.3px;font-size:37px;top:503.0px;letter-spacing:0.11px">eval</span>
<span class="t g5" style="left:1565.5px;font-size:24.6px;top:593.9px;letter-spacing:0.47px">Start</span>
<span class="t " style="left:1566.5px;font-size:24.6px;top:633.2px;letter-spacing:0.41px">5h ago</span>
<span class="t g5" style="left:1933.5px;font-size:24.6px;top:593.9px;letter-spacing:0.73px">Offset</span>
<span class="t " style="left:1934.5px;font-size:24.6px;top:633.2px;letter-spacing:0.53px">0.00s</span>
<span class="t g5" style="left:1565.3px;font-size:24.6px;top:689.9px;letter-spacing:0.67px">Duration</span>
<span class="t " style="left:1566.5px;font-size:24.6px;top:729.2px;letter-spacing:0.03px">5.79s</span>
<div class="a" style="left:1566px;top:806px;width:941px;height:2px;background:#f1f1f3"></div>
<span class="t md" style="left:1565.5px;font-size:24.6px;top:823.0px;letter-spacing:0.65px;color:#27272a">Scores</span>
<svg class="i" style="left:2484px;top:823px;width:24px;height:24px;color:#71717a;stroke-width:2" viewBox="0 0 24 24"><path d="m6 9 6 6 6-6"/></svg>
<span class="t g5" style="left:1565.5px;font-size:24.6px;top:873.7px;letter-spacing:0.54px">normalized_diff</span>
<span class="t " style="left:1565.5px;font-size:28.6px;top:916.8px;letter-spacing:1.84px">0.00%</span>
<div class="a" style="left:1566px;top:990px;width:941px;height:2px;background:#f1f1f3"></div>
<span class="t md" style="left:1564.5px;font-size:24.6px;top:1006.6px;letter-spacing:1.16px;color:#27272a">Input</span>
<svg class="i" style="left:2484px;top:1007px;width:24px;height:24px;color:#71717a;stroke-width:2" viewBox="0 0 24 24"><path d="m6 9 6 6 6-6"/></svg>
<div class="btn" style="left:1566px;top:1062px;width:126px;height:40px;border-radius:7px;"></div>
<span class="t g8 md" style="left:1580.0px;font-size:24.6px;top:1070.7px;letter-spacing:0.04px">YAML</span>
<svg class="i" style="left:1654px;top:1070px;width:24px;height:24px;color:#71717a;stroke-width:1.8" viewBox="0 0 24 24"><path d="m6 9 6 6 6-6"/></svg>
<span class="t m" style="left:1585.0px;font-size:27px;top:1131.1px;color:#a1a1aa;transform:scaleY(1.05);transform-origin:0 20.5px">1</span>
<span class="t m" style="left:1648.5px;font-size:27px;letter-spacing:-1.365px;color:#27272a;top:1131.1px;transform:scaleY(1.05);transform-origin:0 20.5px"><span style="color:#7c4ddb">passage</span>: Ryan and Adam love to play basketball. They</span>
<span class="t m" style="left:1648.5px;font-size:27px;letter-spacing:-1.365px;color:#27272a;top:1164.7px;transform:scaleY(1.05);transform-origin:0 20.5px">like it better than soccer and baseball. Their other</span>
<span class="t m" style="left:1648.5px;font-size:27px;letter-spacing:-1.365px;color:#27272a;top:1198.3px;transform:scaleY(1.05);transform-origin:0 20.5px">friend, Jared, has his own basketball hoop. He got it</span>
<span class="t m" style="left:1648.5px;font-size:27px;letter-spacing:-1.365px;color:#27272a;top:1231.9px;transform:scaleY(1.05);transform-origin:0 20.5px">for his ninth birthday. Ryan got a football for his</span>
<span class="t m" style="left:1648.5px;font-size:27px;letter-spacing:-1.365px;color:#27272a;top:1265.5px;transform:scaleY(1.05);transform-origin:0 20.5px">birthday and Adam got a skateboard. They like their</span>
<span class="t m" style="left:1648.5px;font-size:27px;letter-spacing:-1.365px;color:#27272a;top:1299.1px;transform:scaleY(1.05);transform-origin:0 20.5px">presents, but think the basketball hoop is better. They</span>
<span class="t m" style="left:1648.5px;font-size:27px;letter-spacing:-1.365px;color:#27272a;top:1332.7px;transform:scaleY(1.05);transform-origin:0 20.5px">play basketball at Jared's house with him and any other</span>
<span class="t m" style="left:1648.5px;font-size:27px;letter-spacing:-1.365px;color:#27272a;top:1366.3px;transform:scaleY(1.05);transform-origin:0 20.5px">kids who show up. Alex and Brady come almost every day</span>
<span class="t m" style="left:1648.5px;font-size:27px;letter-spacing:-1.365px;color:#27272a;top:1399.9px;transform:scaleY(1.05);transform-origin:0 20.5px">and Josh, Ty, and Max come sometimes. Next year, they</span>
<span class="t m" style="left:1648.5px;font-size:27px;letter-spacing:-1.365px;color:#27272a;top:1433.5px;transform:scaleY(1.05);transform-origin:0 20.5px">all get to play on a basketball team. They get to play</span>
<div class="btn" style="left:2452px;top:1362px;width:56px;height:56px;border-radius:12px;"></div>
<svg class="i" style="left:2468px;top:1378px;width:24px;height:24px;color:#3f3f46;stroke-width:2" viewBox="0 0 24 24"><line x1="4" x2="20" y1="12" y2="12"/><line x1="4" x2="20" y1="6" y2="6"/><line x1="4" x2="20" y1="18" y2="18"/></svg>
</body>
</html>
